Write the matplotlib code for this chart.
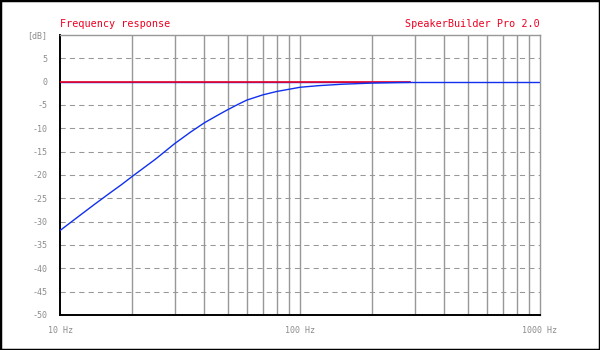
import numpy as np
import matplotlib
matplotlib.use("Agg")
import matplotlib.pyplot as plt
from matplotlib.patches import Rectangle

# Data
freqs = [10, 12, 14, 16, 18, 20, 25, 30, 35, 40, 45, 50, 55, 60, 70, 80, 90,
         100, 120, 150, 200, 250, 287]
response_db = [-31.9, -28.8, -26.2, -24.0, -22.1, -20.3, -16.6, -13.3, -10.8,
               -8.8, -7.3, -6.0, -4.9, -3.95, -2.83, -2.1, -1.63, -1.2, -0.85,
               -0.55, -0.3, -0.2, -0.15]
ref_freqs = [10, 287]
ref_db = [0, 0]
y_ticks = [10, 5, 0, -5, -10, -15, -20, -25, -30, -35, -40, -45, -50]
y_labels = ["[dB]", "5", "0", "-5", "-10", "-15", "-20", "-25", "-30",
            "-35", "-40", "-45", "-50"]
x_ticks = [10, 100, 1000]
x_labels = ["10 Hz", "100 Hz", "1000 Hz"]
title_left = "Frequency response"
title_right = "SpeakerBuilder Pro 2.0"

mono = "DejaVu Sans Mono"
grid_c = "#989898"
red = "#ee0022"
blue = "#1030ee"

fig = plt.figure(figsize=(6, 3.5), dpi=100)
ax = fig.add_axes([0.1, 0.1, 0.8, 0.8])
ax.set_xscale("log")
ax.set_xlim(10, 1000)
ax.set_ylim(-50, 10)

# grid
for f in [20, 30, 40, 50, 60, 70, 80, 90, 100, 200, 300, 400, 500, 600, 700, 800, 900]:
    ax.axvline(f, color=grid_c, lw=1.0, zorder=1)
for y in [5, -5, -10, -15, -20, -25, -30, -35, -40, -45]:
    ax.axhline(y, color=grid_c, lw=0.75, linestyle=(0, (5, 4)), zorder=1)

ax.axhline(0, color=blue, lw=1.0, zorder=2)
ax.plot(ref_freqs, ref_db, color=red, lw=1.2, zorder=3)
ax.plot(freqs, response_db, color=blue, lw=1.0, zorder=4)

ax.set_xticks(x_ticks)
ax.set_xticklabels(x_labels)
ax.xaxis.set_minor_locator(matplotlib.ticker.NullLocator())
ax.set_yticks(y_ticks)
ax.set_yticklabels(y_labels)
ax.tick_params(length=0, labelsize=6, labelcolor="#8c8c8c")
ax.tick_params(axis="x", pad=8)
ax.tick_params(axis="y", pad=9)
for lab in ax.get_xticklabels() + ax.get_yticklabels():
    lab.set_family(mono)

for s in ["left", "bottom"]:
    ax.spines[s].set_color("black")
    ax.spines[s].set_linewidth(1.4)
for s in ["top", "right"]:
    ax.spines[s].set_color(grid_c)
    ax.spines[s].set_linewidth(1.0)

fig.text(0.1, 0.931, title_left, color=red, family=mono, fontsize=7.3,
         ha="left", va="center")
fig.text(0.9, 0.931, title_right, color=red, family=mono, fontsize=7.3,
         ha="right", va="center")

fig.add_artist(Rectangle((0, 0), 1, 1, transform=fig.transFigure, fill=False,
                         edgecolor="black", lw=2.5))

fig.savefig("out.png", dpi=100)
